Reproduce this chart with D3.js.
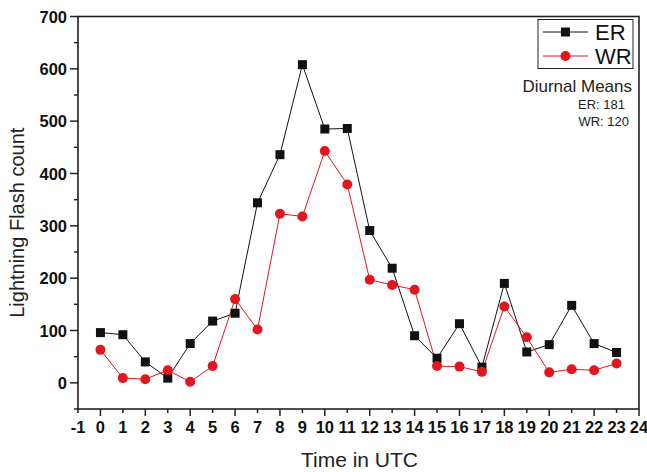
<!DOCTYPE html>
<html><head><meta charset="utf-8">
<script src="https://cdn.jsdelivr.net/npm/d3@7"></script>
<style>body{margin:0;background:#fff;} text{font-family:"Liberation Sans",Arial,sans-serif;} .tk{font-weight:700;}</style>
</head><body>
<svg id="c" width="647" height="472"></svg>
<script>
const hours = [0,1,2,3,4,5,6,7,8,9,10,11,12,13,14,15,16,17,18,19,20,21,22,23];
const erValues = [96,92,40,9,75,118,133,344,436,608,485,486,291,219,90,47,113,30,190,59,73,148,75,58];
const wrValues = [63,9,7,24,2,32,160,102,323,318,443,379,197,187,178,32,31,21,146,87,20,26,24,37];
const xTicks = d3.range(-1,25);
const yTicks = [0,100,200,300,400,500,600,700];
const seriesNames = ["ER","WR"];
const meansText = ["Diurnal Means","ER: 181","WR: 120"];

const svg = d3.select("#c");
const L=78, R=639, T=16.5, B=409;
const x = d3.scaleLinear().domain([-1,24]).range([L,R]);
const y = d3.scaleLinear().domain([-50,700]).range([B,T]);
const red = "#e0171f";

// frame
svg.append("rect").attr("x",L).attr("y",T).attr("width",R-L).attr("height",B-T)
  .attr("fill","none").attr("stroke","#222").attr("stroke-width",1.6);

// x axis ticks
const gx = svg.append("g");
xTicks.forEach(t=>{
  const major = (t%2===0);
  gx.append("line").attr("x1",x(t)).attr("x2",x(t)).attr("y1",B).attr("y2",B+(major?7:4))
    .attr("stroke","#222").attr("stroke-width",1.5);
  gx.append("text").attr("class","tk").attr("x",x(t)).attr("y",B+24).attr("text-anchor","middle")
    .attr("font-size",16.5).attr("fill","#111").text(t);
});
// y axis ticks
const gy = svg.append("g");
d3.range(-50,701,50).forEach(t=>{
  const major = (t%100===0);
  gy.append("line").attr("x1",L).attr("x2",L-(major?8:4)).attr("y1",y(t)).attr("y2",y(t))
    .attr("stroke","#222").attr("stroke-width",1.5);
});
yTicks.forEach(t=>{
  gy.append("text").attr("class","tk").attr("x",L-11).attr("y",y(t)+6).attr("text-anchor","end")
    .attr("font-size",16.5).attr("fill","#111").text(t);
});

// labels
svg.append("text").attr("x",(L+R)/2+1).attr("y",467).attr("text-anchor","middle")
  .attr("font-size",21).attr("fill","#222").text("Time in UTC");
svg.append("text").attr("transform",`translate(24,${(T+B)/2+10}) rotate(-90)`).attr("text-anchor","middle")
  .attr("font-size",20).attr("fill","#222").text("Lightning Flash count");

const line = d3.line().x((d,i)=>x(hours[i])).y(d=>y(d));
svg.append("path").datum(erValues).attr("d",line).attr("fill","none").attr("stroke","#111").attr("stroke-width",1);
svg.append("path").datum(wrValues).attr("d",line).attr("fill","none").attr("stroke",red).attr("stroke-width",1);
svg.append("g").selectAll("rect").data(erValues).join("rect")
  .attr("x",(d,i)=>x(hours[i])-4.5).attr("y",d=>y(d)-4.5).attr("width",9).attr("height",9).attr("fill","#111");
svg.append("g").selectAll("circle").data(wrValues).join("circle")
  .attr("cx",(d,i)=>x(hours[i])).attr("cy",d=>y(d)).attr("r",5).attr("fill",red);

// legend
const lg = svg.append("g");
lg.append("rect").attr("x",538).attr("y",19.5).attr("width",95).attr("height",49)
  .attr("fill","#fff").attr("stroke","#222").attr("stroke-width",1);
[["#111","rect"],[red,"circle"]].forEach((s,i)=>{
  const cy = 32+i*24;
  lg.append("line").attr("x1",543).attr("x2",588).attr("y1",cy).attr("y2",cy).attr("stroke",s[0]).attr("stroke-width",1);
  if(s[1]==="rect") lg.append("rect").attr("x",565.5-4.5).attr("y",cy-4.5).attr("width",9).attr("height",9).attr("fill",s[0]);
  else lg.append("circle").attr("cx",565.5).attr("cy",cy).attr("r",5).attr("fill",s[0]);
  lg.append("text").attr("x",595).attr("y",cy+8).attr("font-size",22).attr("fill","#111").text(seriesNames[i]);
});
svg.append("text").attr("x",632).attr("y",92).attr("text-anchor","end").attr("font-size",17).attr("fill","#222").text(meansText[0]);
svg.append("text").attr("x",625).attr("y",109).attr("text-anchor","end").attr("font-size",13).attr("fill","#222").text(meansText[1]);
svg.append("text").attr("x",629).attr("y",126).attr("text-anchor","end").attr("font-size",13).attr("fill","#222").text(meansText[2]);
</script>
</body></html>
